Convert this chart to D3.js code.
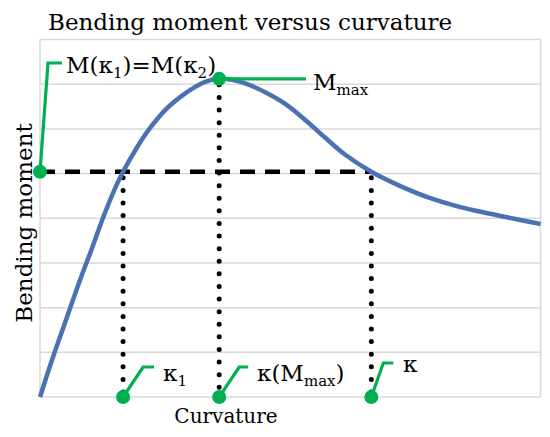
<!DOCTYPE html>
<html><head><meta charset="utf-8">
<script src="https://cdn.jsdelivr.net/npm/d3@7"></script>
<style>html,body{margin:0;padding:0;background:#fff;} svg{display:block;}</style>
</head><body>
<svg id="c" width="550" height="437"></svg>
<script>
// ---- data ----
const curvature = [0, 0.26, 0.54, 0.80, 1.04, 1.26, 1.46, 1.66, 1.94, 2.20, 2.50, 2.80, 3.10, 3.34, 3.58, 3.84, 4.14, 4.50, 4.90, 5.30, 5.70, 6.10, 6.62, 7.20, 7.80, 8.40, 9.00, 9.60, 10.0];
const moment    = [0, 0.895, 1.79, 2.62, 3.33, 4.01, 4.57, 5.04, 5.59, 6.02, 6.42, 6.71, 6.94, 7.07, 7.12, 7.10, 7.00, 6.82, 6.56, 6.20, 5.80, 5.42, 5.04, 4.72, 4.45, 4.25, 4.10, 3.96, 3.87];
const gridTicks = [0, 1, 2, 3, 4, 5, 6, 7, 8];
const kappaVals = [1.66, 3.58, 6.62];          // kappa1, kappa(Mmax), kappa
const levelM = 5.04;                            // M(k1)=M(k2)
const peak = {k: 3.58, m: 7.12};                // Mmax
const title = "Bending moment versus curvature";
const xTitle = "Curvature";
const yTitle = "Bending moment";

const svg = d3.select("#c");
const x = d3.scaleLinear().domain([0, 10]).range([40, 540.5]);
const y = d3.scaleLinear().domain([0, 8]).range([397, 39.5]);
const green = "#00B050", blue = "#4A72B0", grid = "#d9d9d9";
const font = "'DejaVu Serif', serif";

// gridlines & frame
svg.append("g").selectAll("line").data(gridTicks).join("line")
  .attr("x1", x(0)).attr("x2", x(10))
  .attr("y1", d => y(d)).attr("y2", d => y(d))
  .attr("stroke", grid).attr("stroke-width", 1.5);
svg.append("line").attr("x1", x(0)).attr("x2", x(0)).attr("y1", y(0)).attr("y2", y(8)).attr("stroke", grid).attr("stroke-width", 1.5);
svg.append("line").attr("x1", x(10)).attr("x2", x(10)).attr("y1", y(0)).attr("y2", y(8)).attr("stroke", grid).attr("stroke-width", 1.5);

// dashed horizontal
svg.append("line").attr("x1", x(0)).attr("x2", x(kappaVals[2])).attr("y1", y(levelM)).attr("y2", y(levelM))
  .attr("stroke", "#000").attr("stroke-width", 4.5).attr("stroke-dasharray", "15 10");

// dotted verticals
const tops = [levelM, peak.m, levelM];
svg.append("g").selectAll("line").data(kappaVals).join("line")
  .attr("x1", d => x(d)).attr("x2", d => x(d))
  .attr("y1", (d, i) => y(tops[i]) + 6).attr("y2", y(0))
  .attr("stroke", "#000").attr("stroke-width", 5).attr("stroke-linecap", "round")
  .attr("stroke-dasharray", "0 12.6");

// curve
const pts = curvature.map((c, i) => [c, moment[i]]);
svg.append("path").datum(pts)
  .attr("d", d3.line().x(d => x(d[0])).y(d => y(d[1])).curve(d3.curveCatmullRom.alpha(0.5)))
  .attr("fill", "none").attr("stroke", blue).attr("stroke-width", 4.5).attr("stroke-linejoin", "round");

// green leaders
function leader(pts) {
  svg.append("path").attr("d", d3.line()(pts)).attr("fill", "none")
    .attr("stroke", green).attr("stroke-width", 3.2);
}
leader([[x(0), y(levelM)], [x(0) + 8, 63], [x(0) + 22, 63]]);
leader([[x(peak.k), y(peak.m)], [306, y(peak.m)]]);
const kDy = [30, 30, 34];
const kDx = [[20, 31], [20, 29], [12, 22]];
kappaVals.forEach((k, i) => {
  leader([[x(k), y(0)], [x(k) + kDx[i][0], y(0) - kDy[i]], [x(k) + kDx[i][1], y(0) - kDy[i]]]);
});
const dots = [[x(0), y(levelM)], [x(peak.k), y(peak.m)], ...kappaVals.map(k => [x(k), y(0)])];
svg.append("g").selectAll("circle").data(dots).join("circle")
  .attr("cx", d => d[0]).attr("cy", d => d[1]).attr("r", 7).attr("fill", green);

// texts
const fs = 23, sub = 15;
svg.append("text").attr("x", 48).attr("y", 30).attr("font-family", font).attr("font-size", fs).text(title);

function label(xp, yp, parts) {
  const t = svg.append("text").attr("x", xp).attr("y", yp).attr("font-family", font).attr("font-size", fs).attr("fill", "#000");
  parts.forEach(p => {
    const ts = t.append("tspan").text(p[0]);
    if (p[1] === "sub") ts.attr("font-size", sub).attr("dy", 5);
    else if (p[1] === "up") ts.attr("dy", -5);
  });
}
label(66, 73, [["M(κ"], ["1", "sub"], [")=M(κ", "up"], ["2", "sub"], [")", "up"]]);
label(313, 90, [["M"], ["max", "sub"]]);
label(163, 381, [["κ"], ["1", "sub"]]);
label(257, 381, [["κ(M"], ["max", "sub"], [")", "up"]]);
label(403, 372, [["κ"]]);

svg.append("text").attr("x", 226).attr("y", 423).attr("text-anchor", "middle")
  .attr("font-family", font).attr("font-size", 20).text(xTitle);
svg.append("text").attr("transform", "translate(32,223) rotate(-90)").attr("text-anchor", "middle")
  .attr("font-family", font).attr("font-size", fs).text(yTitle);
</script>
</body></html>
